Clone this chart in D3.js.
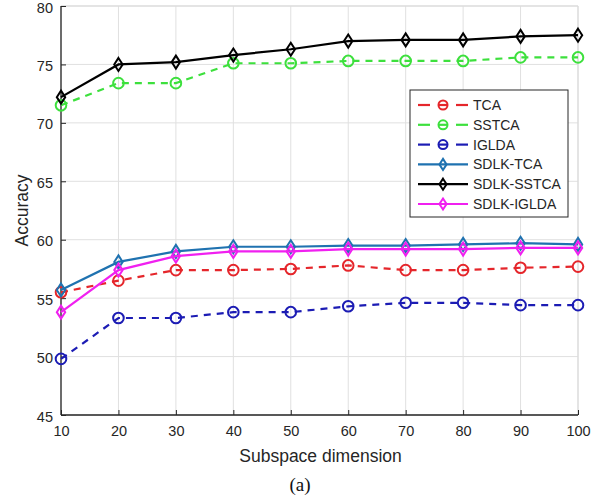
<!DOCTYPE html>
<html>
<head>
<meta charset="utf-8">
<script src="https://cdn.jsdelivr.net/npm/d3@7/dist/d3.min.js"></script>
<style>
  body { margin: 0; background: #fff; }
  text { font-family: "Liberation Sans", Arial, sans-serif; fill: #262626; }
</style>
</head>
<body>
<div id="chart"></div>
<script>
//chart values
const dims = [10, 20, 30, 40, 50, 60, 70, 80, 90, 100];
const tca = [55.5, 56.5, 57.4, 57.4, 57.5, 57.8, 57.4, 57.4, 57.6, 57.7];
const sstca = [71.5, 73.4, 73.4, 75.1, 75.1, 75.3, 75.3, 75.3, 75.6, 75.6];
const iglda = [49.8, 53.3, 53.3, 53.8, 53.8, 54.3, 54.6, 54.6, 54.4, 54.4];
const sdlkTca = [55.7, 58.1, 59.0, 59.4, 59.4, 59.5, 59.5, 59.6, 59.7, 59.6];
const sdlkSstca = [72.2, 75.0, 75.2, 75.8, 76.3, 77.0, 77.1, 77.1, 77.4, 77.5];
const sdlkIglda = [53.8, 57.4, 58.6, 59.0, 59.0, 59.2, 59.2, 59.2, 59.3, 59.3];
const yTicks = [45, 50, 55, 60, 65, 70, 75, 80];

//series setup
const series = [
  { name: "TCA", values: tca, color: "#e5262b", dash: "7,6", marker: "circle" },
  { name: "SSTCA", values: sstca, color: "#3de03d", dash: "7,6", marker: "circle" },
  { name: "IGLDA", values: iglda, color: "#1c1cb4", dash: "7,6", marker: "circle" },
  { name: "SDLK-TCA", values: sdlkTca, color: "#1f72b0", dash: null, marker: "diamond" },
  { name: "SDLK-SSTCA", values: sdlkSstca, color: "#000000", dash: null, marker: "diamond" },
  { name: "SDLK-IGLDA", values: sdlkIglda, color: "#f020f0", dash: null, marker: "diamond" }
];

const width = 606;
const height = 504;
const margin = { top: 6, right: 28, bottom: 89, left: 61 };

const svg = d3.select("#chart")
  .append("svg")
  .attr("width", width)
  .attr("height", height);

const x = d3.scaleLinear().domain([10, 100]).range([margin.left, width - margin.right]);
const y = d3.scaleLinear().domain([45, 80]).range([height - margin.bottom, margin.top]);

//grid lines
svg.append("g")
  .selectAll("line.vg")
  .data(dims)
  .enter()
  .append("line")
  .attr("x1", d => x(d)).attr("x2", d => x(d))
  .attr("y1", y(45)).attr("y2", y(80))
  .attr("stroke", "#e0e0e0").attr("stroke-width", 1);

svg.append("g")
  .selectAll("line.hg")
  .data(yTicks)
  .enter()
  .append("line")
  .attr("x1", x(10)).attr("x2", x(100))
  .attr("y1", d => y(d)).attr("y2", d => y(d))
  .attr("stroke", "#e0e0e0").attr("stroke-width", 1);

//light box on top and right
svg.append("path")
  .attr("d", `M${x(10)},${y(80)}H${x(100)}V${y(45)}`)
  .attr("fill", "none")
  .attr("stroke", "#d9d9d9");

//axes
const xAxis = d3.axisBottom(x).tickValues(dims).tickSize(-5).tickPadding(11);
const yAxis = d3.axisLeft(y).tickValues(yTicks).tickSize(-5).tickPadding(8);

const gx = svg.append("g")
  .attr("transform", `translate(0,${y(45)})`)
  .call(xAxis);
const gy = svg.append("g")
  .attr("transform", `translate(${x(10)},0)`)
  .call(yAxis);

[gx, gy].forEach(g => {
  g.select(".domain").attr("stroke", "#262626").attr("stroke-width", 1.3);
  g.selectAll(".tick line").attr("stroke", "#262626");
  g.selectAll(".tick text")
    .attr("font-size", 14.5)
    .attr("font-family", "Liberation Sans, Arial, sans-serif")
    .attr("fill", "#262626");
});
gy.selectAll(".tick text").attr("dy", "0.42em");
gy.select(".domain").attr("d", `M0,${y(80)}V${y(45)}`);
gx.select(".domain").attr("d", `M${x(10)},0H${x(100)}`);

//axis titles
svg.append("text")
  .attr("x", (x(10) + x(100)) / 2 + 1)
  .attr("y", 462)
  .attr("text-anchor", "middle")
  .attr("font-size", 17.5)
  .text("Subspace dimension");

svg.append("text")
  .attr("transform", `translate(28,${(y(45) + y(80)) / 2}) rotate(-90)`)
  .attr("text-anchor", "middle")
  .attr("font-size", 17.5)
  .text("Accuracy");

svg.append("text")
  .attr("x", 300)
  .attr("y", 491)
  .attr("text-anchor", "middle")
  .attr("font-size", 19)
  .style("font-family", "Liberation Serif, Times New Roman, serif")
  .style("fill", "#111")
  .text("(a)");

//marker drawing
function drawMarker(g, type, color, size) {
  if (type === "circle") {
    g.append("circle")
      .attr("r", 5.3 * size)
      .attr("fill", "none")
      .attr("stroke", color)
      .attr("stroke-width", 2);
  } else {
    g.append("path")
      .attr("d", `M0,${-6.5 * size}L${4.2 * size},0L0,${6.5 * size}L${-4.2 * size},0Z`)
      .attr("fill", "none")
      .attr("stroke", color)
      .attr("stroke-width", 2);
  }
}

const line = d3.line()
  .x((d, i) => x(dims[i]))
  .y(d => y(d));

//draw lines and markers
series.forEach(s => {
  svg.append("path")
    .datum(s.values)
    .attr("d", line)
    .attr("fill", "none")
    .attr("stroke", s.color)
    .attr("stroke-width", 2.2)
    .attr("stroke-dasharray", s.dash);

  svg.append("g")
    .selectAll("g")
    .data(s.values)
    .enter()
    .append("g")
    .attr("transform", (d, i) => `translate(${x(dims[i])},${y(d)})`)
    .each(function() { drawMarker(d3.select(this), s.marker, s.color, 1); });
});

//legend
const legend = svg.append("g").attr("transform", "translate(410,90)");
legend.append("rect")
  .attr("width", 158)
  .attr("height", 127)
  .attr("fill", "#fff")
  .attr("stroke", "#262626")
  .attr("stroke-width", 1);

series.forEach((s, i) => {
  const ly = 15 + i * 19.8;
  const row = legend.append("g").attr("transform", `translate(0,${ly})`);
  if (s.dash) {
    row.append("line").attr("x1", 8).attr("x2", 20).attr("stroke", s.color).attr("stroke-width", 2.2);
    row.append("line").attr("x1", 28).attr("x2", 38).attr("stroke", s.color).attr("stroke-width", 2.2);
    row.append("line").attr("x1", 46).attr("x2", 58).attr("stroke", s.color).attr("stroke-width", 2.2);
  } else {
    row.append("line").attr("x1", 8).attr("x2", 58).attr("stroke", s.color).attr("stroke-width", 2.2);
  }
  const m = row.append("g").attr("transform", "translate(33,0)");
  drawMarker(m, s.marker, s.color, 0.85);
  row.append("text")
    .attr("x", 63)
    .attr("y", 5)
    .attr("font-size", 14)
    .text(s.name);
});
</script>
</body>
</html>
